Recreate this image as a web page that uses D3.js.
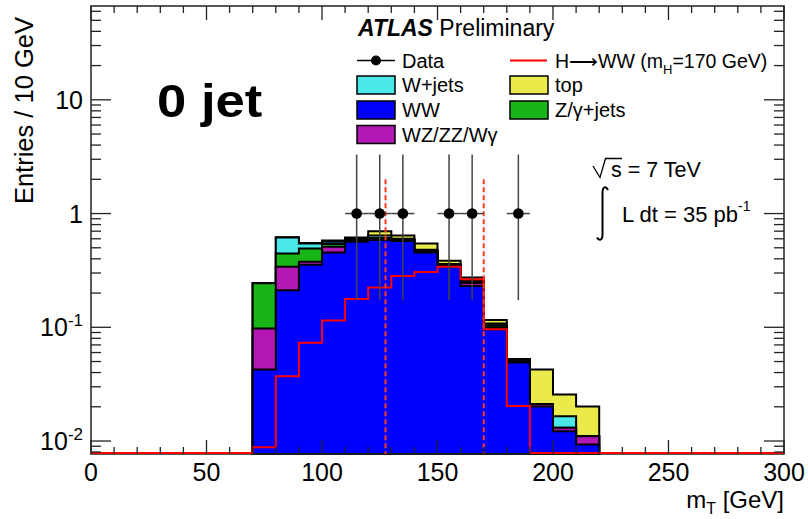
<!DOCTYPE html>
<html>
<head>
<meta charset="utf-8" />
<title>mT 0 jet</title>
<script src="https://d3js.org/d3.v7.min.js"></script>
<style>
  body { margin: 0; background: #fff; }
  text { font-family: "Liberation Sans", Arial, Helvetica, sans-serif; fill: #000; }
</style>
</head>
<body>
<div class="chart"></div>
<script>
// ---- data ----
// lower edges of the 10 GeV bins that carry background
const binLow = [70, 80, 90, 100, 110, 120, 130, 140, 150, 160, 170, 180, 190, 200, 210];
const binWidth = 10;

// background components, stacked in this order (bottom -> top)
const wwBkg    = [0.0426, 0.212, 0.354, 0.455, 0.565, 0.585, 0.575, 0.455, 0.347, 0.231, 0.096, 0.0489, 0.0201, 0.0122, 0.0093];
const vvBkg    = [0.055, 0.128, 0.022, 0.055, 0.015, 0.015, 0.010, 0.010, 0.005, 0.014, 0.004, 0.0006, 0.0011, 0.0009, 0.0017];
const zjetsBkg = [0.146, 0.106, 0.117, 0.030, 0.010, 0.010, 0.005, 0.005, 0.003, 0.005, 0.004, 0.0005, 0, 0, 0];
const wjetsBkg = [0.001, 0.171, 0.053, 0.025, 0.010, 0.030, 0.010, 0.010, 0.005, 0.005, 0.004, 0.001, 0, 0.0034, 0];
const topBkg   = [0.001, 0.003, 0.004, 0.015, 0.017, 0.060, 0.040, 0.066, 0.025, 0.019, 0.008, 0.0015, 0.0214, 0.0092, 0.0091];

// H->WW signal, 30 bins from 0 to 300 GeV
const higgsSignal = [0, 0, 0, 0, 0, 0, 0,
  0.0088, 0.0372, 0.0733, 0.115, 0.177, 0.224, 0.283, 0.307, 0.340, 0.265, 0.096, 0.0203,
  0, 0, 0, 0, 0, 0, 0, 0, 0, 0, 0];

// data points (bin centres), Poisson errors
const dataX = [115, 125, 135, 155, 165, 185];
const dataY = [1, 1, 1, 1, 1, 1];
const dataErrUp = [2.30, 2.30, 2.30, 2.30, 2.30, 2.30];
const dataErrDown = [0.827, 0.827, 0.827, 0.827, 0.827, 0.827];

// cut lines
const cutX = [127.5, 170];
const cutTop = 2;

// axis ticks
const xTickValues = [0, 50, 100, 150, 200, 250, 300];
const yTickValues = [0.01, 0.1, 1, 10];

// legend
const legendKeys = ["ww", "vv", "zjets", "wjets", "top"];
const legendNames = { ww: "WW", vv: "WZ/ZZ/W\u03B3", zjets: "Z/\u03B3+jets", wjets: "W+jets", top: "top" };
const legendColors = { ww: "#0000ff", vv: "#b418b4", zjets: "#18b418", wjets: "#4ae8e8", top: "#eaea4a" };

// ---- drawing ----
const W = 808, H = 519;
const frame = { left: 91, right: 784, top: 6, bottom: 454 };
const yMin = 0.00769, yMax = 66.8;

const svg = d3.select('.chart').append('svg')
  .attr('width', W).attr('height', H);

const x = d3.scaleLinear().domain([0, 300]).range([frame.left, frame.right]);
const y = d3.scaleLog().domain([yMin, yMax]).range([frame.bottom, frame.top]);
const yc = v => y(Math.max(v, yMin));

// stacked background
const rows = binLow.map((lo, i) => ({
  lo: lo, ww: wwBkg[i], vv: vvBkg[i], zjets: zjetsBkg[i], wjets: wjetsBkg[i], top: topBkg[i]
}));
const layers = d3.stack().keys(legendKeys)(rows);

const stepArea = d3.area()
  .x(d => x(d[0]))
  .y0(frame.bottom)
  .y1(d => yc(d[1]));

// draw from the cumulative total down, so lower layers cover upper ones
layers.slice().reverse().forEach(layer => {
  const pts = [];
  layer.forEach((d, i) => {
    pts.push([rows[i].lo, d[1]]);
    pts.push([rows[i].lo + binWidth, d[1]]);
  });
  svg.append('path')
    .attr('d', stepArea(pts))
    .attr('fill', legendColors[layer.key])
    .attr('stroke', '#000')
    .attr('stroke-width', 2);
});

// frame
svg.append('rect')
  .attr('x', frame.left).attr('y', frame.top)
  .attr('width', frame.right - frame.left).attr('height', frame.bottom - frame.top)
  .attr('fill', 'none').attr('stroke', '#222').attr('stroke-width', 1.5);

// signal histogram
const hPts = [];
higgsSignal.forEach((v, i) => {
  hPts.push([i * binWidth, v]);
  hPts.push([(i + 1) * binWidth, v]);
});
svg.append('path')
  .attr('d', d3.line().x(d => x(d[0])).y(d => Math.min(yc(d[1]), frame.bottom - 1))(hPts))
  .attr('fill', 'none').attr('stroke', '#ff0000').attr('stroke-width', 2);

// cut lines
svg.selectAll('.cut').data(cutX).enter().append('line')
  .attr('x1', d => x(d)).attr('x2', d => x(d))
  .attr('y1', y(cutTop)).attr('y2', frame.bottom)
  .attr('stroke', '#ff3a1a').attr('stroke-width', 2)
  .attr('stroke-dasharray', '5,3');

// ticks
const ticks = svg.append('g').attr('stroke', '#222').attr('stroke-width', 1.3);
d3.range(0, 301, 10).forEach(v => {
  const len = v % 50 === 0 ? 14 : 7;
  ticks.append('line').attr('x1', x(v)).attr('x2', x(v)).attr('y1', frame.bottom).attr('y2', frame.bottom - len);
  ticks.append('line').attr('x1', x(v)).attr('x2', x(v)).attr('y1', frame.top).attr('y2', frame.top + len);
});
y.ticks(40).filter(v => v >= yMin && v <= yMax).forEach(v => {
  const major = yTickValues.some(t => Math.abs(t - v) / t < 1e-6);
  const len = major ? 20 : 10;
  ticks.append('line').attr('x1', frame.left).attr('x2', frame.left + len).attr('y1', y(v)).attr('y2', y(v));
  ticks.append('line').attr('x1', frame.right).attr('x2', frame.right - len).attr('y1', y(v)).attr('y2', y(v));
});

// x tick labels
svg.selectAll('.xlab').data(xTickValues).enter().append('text')
  .attr('x', d => x(d)).attr('y', frame.bottom + 27)
  .attr('text-anchor', 'middle').attr('font-size', 25)
  .text(d => d);

// y tick labels
yTickValues.forEach(v => {
  const t = svg.append('text').attr('x', 83).attr('y', y(v) + 9)
    .attr('text-anchor', 'end').attr('font-size', 25);
  const e = Math.round(Math.log10(v));
  if (e === 0) t.text('1');
  else if (e === 1) t.text('10');
  else {
    t.append('tspan').text('10');
    t.append('tspan').attr('font-size', 17).attr('dy', -10).text(e);
  }
});

// axis titles
svg.append('text').attr('x', frame.right).attr('y', 508)
  .attr('text-anchor', 'end').attr('font-size', 24)
  .call(t => {
    t.append('tspan').text('m');
    t.append('tspan').attr('font-size', 16).attr('dy', 6).text('T');
    t.append('tspan').attr('dy', -6).text(' [GeV]');
  });
svg.append('text')
  .attr('transform', 'translate(33,17) rotate(-90)')
  .attr('text-anchor', 'end').attr('font-size', 25.5)
  .text('Entries / 10 GeV');

// data points
const dataG = svg.append('g');
dataX.forEach((dx, i) => {
  dataG.append('line').attr('x1', x(dx)).attr('x2', x(dx))
    .attr('y1', y(dataY[i] + dataErrUp[i])).attr('y2', y(dataY[i] - dataErrDown[i]))
    .attr('stroke', '#444').attr('stroke-width', 1.5);
  dataG.append('line').attr('x1', x(dx - binWidth / 2)).attr('x2', x(dx + binWidth / 2))
    .attr('y1', y(dataY[i])).attr('y2', y(dataY[i]))
    .attr('stroke', '#444').attr('stroke-width', 1.5);
  dataG.append('circle').attr('cx', x(dx)).attr('cy', y(dataY[i])).attr('r', 5.3).attr('fill', '#000');
});

// labels
svg.append('text').attr('transform', 'translate(157,117) scale(1.12,1)')
  .attr('font-size', 47).attr('font-weight', 'bold').text('0 jet');

svg.append('text').attr('x', 358).attr('y', 36).attr('font-size', 23)
  .call(t => {
    t.append('tspan').attr('font-weight', 'bold').attr('font-style', 'italic').text('ATLAS');
    t.append('tspan').text(' Preliminary');
  });

// legend
const leg = svg.append('g').attr('font-size', 20);
const col1 = 357, col2 = 510, boxW = 38, boxH = 18, textOff = 45;
const legRow = [60.5, 85, 110, 134.5];

leg.append('line').attr('x1', col1).attr('x2', col1 + boxW).attr('y1', legRow[0]).attr('y2', legRow[0])
  .attr('stroke', '#000').attr('stroke-width', 1.5);
leg.append('circle').attr('cx', col1 + boxW / 2).attr('cy', legRow[0]).attr('r', 5).attr('fill', '#000');
leg.append('text').attr('x', col1 + textOff).attr('y', legRow[0] + 7).text('Data');

leg.append('line').attr('x1', col2).attr('x2', col2 + boxW - 1).attr('y1', legRow[0]).attr('y2', legRow[0])
  .attr('stroke', '#ff0000').attr('stroke-width', 2);
leg.append('text').attr('x', col2 + textOff).attr('y', legRow[0] + 7).attr('font-size', 19.5)
  .call(t => {
    t.append('tspan').text('H\u27F6WW (m');
    t.append('tspan').attr('font-size', 13).attr('dy', 6).text('H');
    t.append('tspan').attr('dy', -6).text('=170 GeV)');
  });

const boxes = [
  { key: 'wjets', cx: col1, row: 1 }, { key: 'ww', cx: col1, row: 2 }, { key: 'vv', cx: col1, row: 3 },
  { key: 'top', cx: col2, row: 1 }, { key: 'zjets', cx: col2, row: 2 }
];
boxes.forEach(b => {
  leg.append('rect').attr('x', b.cx).attr('y', legRow[b.row] - boxH / 2)
    .attr('width', boxW).attr('height', boxH)
    .attr('fill', legendColors[b.key]).attr('stroke', '#000').attr('stroke-width', 1.5);
  leg.append('text').attr('x', b.cx + textOff).attr('y', legRow[b.row] + 7).text(legendNames[b.key]);
});

// energy and luminosity
svg.append('path')
  .attr('d', 'M593,166 L600,177.5 L605.5,158.5 L622,158.5')
  .attr('fill', 'none').attr('stroke', '#000').attr('stroke-width', 1.3);
svg.append('text').attr('x', 611).attr('y', 177).attr('font-size', 21.5).text('s = 7 TeV');
svg.append('path')
  .attr('d', 'M608,190 C606,186 602.5,186 602.5,193 L602.5,234 C602.5,241 599,241 597,237.5')
  .attr('fill', 'none').attr('stroke', '#000').attr('stroke-width', 2);
svg.append('text').attr('x', 622).attr('y', 222).attr('font-size', 22)
  .call(t => {
    t.append('tspan').text('L dt = 35 pb');
    t.append('tspan').attr('font-size', 14).attr('dy', -11).text('-1');
  });
</script>
</body>
</html>
